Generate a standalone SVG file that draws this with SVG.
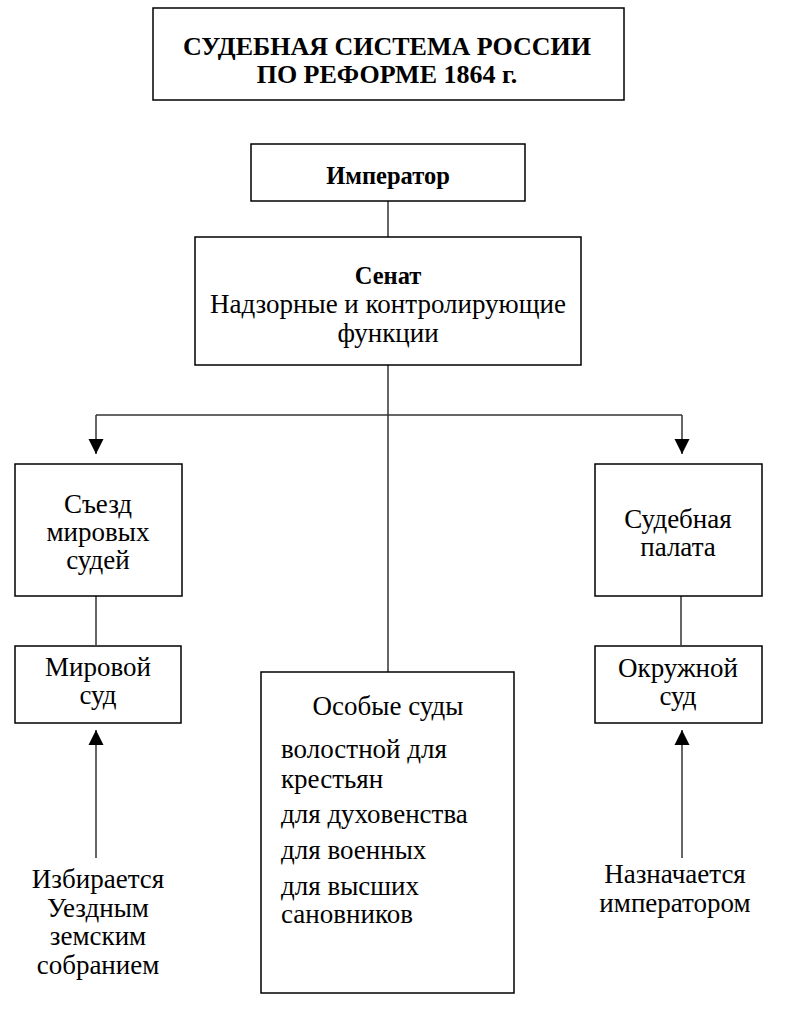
<svg xmlns="http://www.w3.org/2000/svg" width="802" height="1011" viewBox="0 0 802 1011">
<defs>
<marker id="arr" viewBox="0 0 10 10" refX="10" refY="5" markerWidth="15" markerHeight="16" markerUnits="userSpaceOnUse" orient="auto">
<path d="M0,0 L10,5 L0,10 z" fill="#000"/>
</marker>
<style>
.box{fill:#fff;stroke:#000;stroke-width:1.5}
.t{font-family:'Liberation Serif','Times New Roman',serif;font-size:27px;fill:#000}
.c{text-anchor:middle}
.b{font-weight:bold;font-size:24.5px}
.h{font-size:26px}
.ln{fill:none;stroke:#333;stroke-width:1.5}
</style>
</defs>
<rect width="802" height="1011" fill="#fff"/>
<g id="connectors">
<line class="ln" x1="388" y1="201" x2="388" y2="237"/>
<line class="ln" x1="388" y1="365" x2="388" y2="672"/>
<polyline class="ln" points="96,415 682,415"/>
<line class="ln" x1="96" y1="415" x2="96" y2="454" marker-end="url(#arr)"/>
<line class="ln" x1="682" y1="415" x2="682" y2="454" marker-end="url(#arr)"/>
<line class="ln" x1="96" y1="596" x2="96" y2="645"/>
<line class="ln" x1="681" y1="596" x2="681" y2="645"/>
<line class="ln" x1="96" y1="858" x2="96" y2="730" marker-end="url(#arr)"/>
<line class="ln" x1="682" y1="858" x2="682" y2="730" marker-end="url(#arr)"/>
</g>
<g id="title">
<rect class="box" x="153" y="8" width="471" height="92"/>
<text class="t c b h" x="387" y="55">СУДЕБНАЯ СИСТЕМА РОССИИ</text>
<text class="t c b h" x="387" y="83">ПО РЕФОРМЕ 1864 г.</text>
</g>
<g id="emperor">
<rect class="box" x="251" y="144" width="274" height="57"/>
<text class="t c b" x="388" y="184">Император</text>
</g>
<g id="senate">
<rect class="box" x="195" y="237" width="386" height="128"/>
<text class="t c b" x="388" y="284">Сенат</text>
<text class="t c" x="388" y="313">Надзорные и контролирующие</text>
<text class="t c" x="388" y="342">функции</text>
</g>
<g id="congress">
<rect class="box" x="15" y="464" width="167" height="132"/>
<text class="t c" x="98" y="513">Съезд</text>
<text class="t c" x="98" y="541">мировых</text>
<text class="t c" x="98" y="569">судей</text>
</g>
<g id="peace-court">
<rect class="box" x="15" y="646" width="166" height="77"/>
<text class="t c" x="98" y="676">Мировой</text>
<text class="t c" x="98" y="704">суд</text>
</g>
<g id="chamber">
<rect class="box" x="595" y="464" width="167" height="132"/>
<text class="t c" x="678" y="528">Судебная</text>
<text class="t c" x="678" y="556">палата</text>
</g>
<g id="district-court">
<rect class="box" x="595" y="646" width="167" height="77"/>
<text class="t c" x="678" y="677">Окружной</text>
<text class="t c" x="678" y="705">суд</text>
</g>
<g id="special-courts">
<rect class="box" x="261" y="672" width="253" height="321"/>
<text class="t c" x="388" y="715">Особые суды</text>
<text class="t" x="281" y="758">волостной для</text>
<text class="t" x="281" y="788">крестьян</text>
<text class="t" x="281" y="823">для духовенства</text>
<text class="t" x="281" y="859">для военных</text>
<text class="t" x="281" y="895">для высших</text>
<text class="t" x="281" y="923">сановников</text>
</g>
<g id="elected">
<text class="t c" x="98" y="888">Избирается</text>
<text class="t c" x="98" y="917">Уездным</text>
<text class="t c" x="98" y="945">земским</text>
<text class="t c" x="98" y="974">собранием</text>
</g>
<g id="appointed">
<text class="t c" x="675" y="883">Назначается</text>
<text class="t c" x="675" y="912">императором</text>
</g>
</svg>
